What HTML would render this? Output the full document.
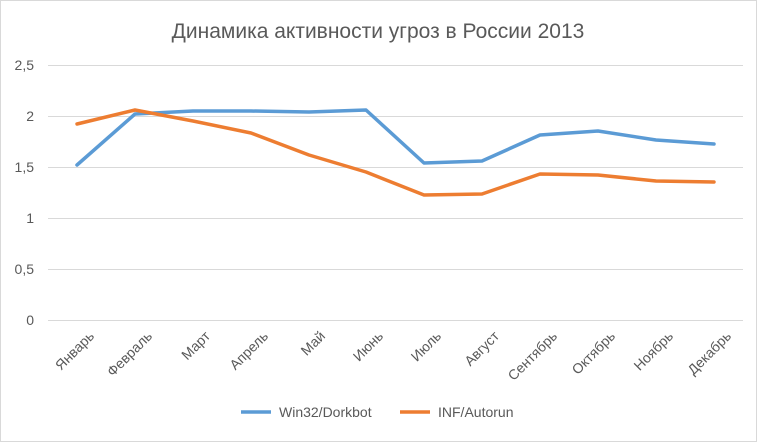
<!DOCTYPE html><html><head><meta charset="utf-8"><style>body{margin:0;background:#fff}svg{display:block}</style></head><body>
<svg width="757" height="442" xmlns="http://www.w3.org/2000/svg" font-family="Liberation Sans, sans-serif">
<rect x="0.5" y="0.5" width="756" height="441" fill="#fff" stroke="#d9d9d9"/>
<text x="378" y="38" text-anchor="middle" font-size="21" fill="#595959">Динамика активности угроз в России 2013</text>
<g stroke="#d9d9d9" stroke-width="1">
<line x1="48" x2="743" y1="65.5" y2="65.5"/><line x1="48" x2="743" y1="116.5" y2="116.5"/><line x1="48" x2="743" y1="167.5" y2="167.5"/><line x1="48" x2="743" y1="218.5" y2="218.5"/><line x1="48" x2="743" y1="269.5" y2="269.5"/><line x1="48" x2="743" y1="320.5" y2="320.5"/>
</g>
<g font-size="14" fill="#595959" text-anchor="end">
<text x="34" y="70">2,5</text><text x="34" y="121">2</text><text x="34" y="172">1,5</text><text x="34" y="223">1</text><text x="34" y="274">0,5</text><text x="34" y="325">0</text>
</g>
<g font-size="14" fill="#595959" text-anchor="end">
<text transform="translate(95,337) rotate(-45)">Январь</text>
<text transform="translate(153,337) rotate(-45)">Февраль</text>
<text transform="translate(211,337) rotate(-45)">Март</text>
<text transform="translate(269,337) rotate(-45)">Апрель</text>
<text transform="translate(326,337) rotate(-45)">Май</text>
<text transform="translate(384,337) rotate(-45)">Июнь</text>
<text transform="translate(442,337) rotate(-45)">Июль</text>
<text transform="translate(500,337) rotate(-45)">Август</text>
<text transform="translate(558,337) rotate(-45)">Сентябрь</text>
<text transform="translate(616,337) rotate(-45)">Октябрь</text>
<text transform="translate(674,337) rotate(-45)">Ноябрь</text>
<text transform="translate(732,337) rotate(-45)">Декабрь</text>
</g>
<polyline fill="none" stroke="#5b9bd5" stroke-width="3.5" stroke-linejoin="round" stroke-linecap="round" points="77,165 135,114 193,111 251,111 309,112 366,110 424,163 482,161 540,135 598,131 656,140 714,144"/>
<polyline fill="none" stroke="#ed7d31" stroke-width="3.5" stroke-linejoin="round" stroke-linecap="round" points="77,124 135,110 193,121 251,133 309,155 366,172 424,195 482,194 540,174 598,175 656,181 714,182"/>
<line x1="241" x2="271" y1="412" y2="412" stroke="#5b9bd5" stroke-width="3.5"/>
<text x="279" y="417" font-size="14" fill="#595959">Win32/Dorkbot</text>
<line x1="400" x2="430" y1="412" y2="412" stroke="#ed7d31" stroke-width="3.5"/>
<text x="438" y="417" font-size="14" fill="#595959">INF/Autorun</text>
</svg>
</body></html>
